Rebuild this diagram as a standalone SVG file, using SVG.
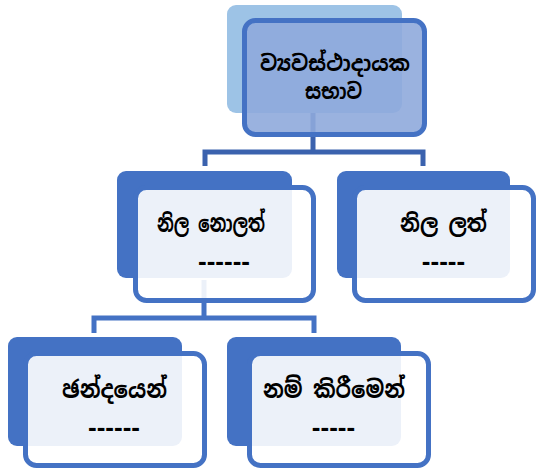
<svg xmlns="http://www.w3.org/2000/svg" width="541" height="472" viewBox="0 0 541 472">
<style>
.back{fill:#4472C4}
.front{fill:#FFFFFF;fill-opacity:0.9;stroke:#4472C4;stroke-width:5}
.conn{fill:none;stroke:#3B62AE;stroke-width:5;stroke-linejoin:miter}
.t{font-family:"Noto Sans Sinhala","Noto Serif Sinhala","Iskoola Pota","Noto Sans","DejaVu Sans",sans-serif;font-weight:bold;font-size:24px;fill:#000;text-anchor:middle}
.t1{font-size:22px}
.d{font-family:"Liberation Sans",Arial,sans-serif;font-weight:bold;font-size:26px;fill:#000;text-anchor:middle}
</style>
<rect width="541" height="472" fill="#FFFFFF"/>
<g id="connectors">
<path class="conn" d="M313,113 V152 M205,166 V152 H423 V166"/>
<path class="conn" style="stroke:#4472C4" d="M204,280 V318 M94,333 V318 H314 V333"/>
</g>
<g id="node1">
<rect x="227" y="5" width="175" height="108" rx="9" fill="#9DC3E6"/>
<rect x="244.5" y="20.5" width="180" height="114" rx="11" fill="#8FAADC" fill-opacity="0.9" stroke="#4472C4" stroke-width="5"/>
<text class="t t1" x="335" y="71" textLength="150" lengthAdjust="spacingAndGlyphs">ව්‍යවස්ථාදායක</text>
<text class="t t1" x="333.5" y="99" textLength="57" lengthAdjust="spacingAndGlyphs">සභාව</text>
</g>
<g id="node2">
<rect class="back" x="117" y="171" width="175" height="107" rx="9"/>
<rect class="front" x="135.5" y="187.5" width="178" height="113" rx="11"/>
<text class="t" x="211" y="232" textLength="108" lengthAdjust="spacingAndGlyphs">නිල නොලත්</text>
<text class="d" x="224" y="270">------</text>
</g>
<g id="node3">
<rect class="back" x="337" y="171" width="173" height="107" rx="9"/>
<rect class="front" x="354.5" y="187.5" width="179" height="113" rx="11"/>
<text class="t" x="443.5" y="232" textLength="87" lengthAdjust="spacingAndGlyphs">නිල ලත්</text>
<text class="d" x="443.5" y="270">-----</text>
</g>
<g id="node4">
<rect class="back" x="8" y="337" width="174" height="109" rx="9"/>
<rect class="front" x="25.5" y="353.5" width="179" height="112" rx="11"/>
<text class="t" x="114.5" y="398" textLength="105" lengthAdjust="spacingAndGlyphs">ඡන්දයෙන්</text>
<text class="d" x="114" y="436">------</text>
</g>
<g id="node5">
<rect class="back" x="227" y="337" width="174" height="109" rx="9"/>
<rect class="front" x="249.5" y="353.5" width="179" height="112" rx="11"/>
<text class="t" x="334" y="398" textLength="142" lengthAdjust="spacingAndGlyphs">නම් කිරීමෙන්</text>
<text class="d" x="333.5" y="436">-----</text>
</g>
</svg>
